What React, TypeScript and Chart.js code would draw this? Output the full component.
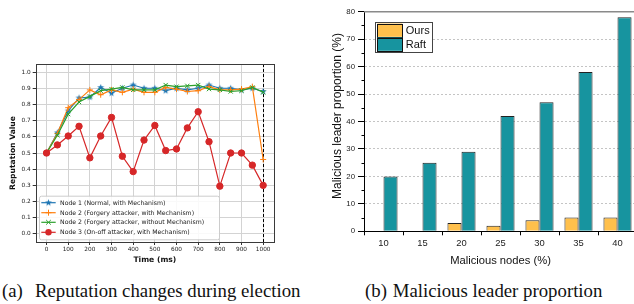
import React, { useEffect, useRef } from 'react';
import { Chart, registerables } from 'chart.js';
Chart.register(...registerables);

// ---------- (a) Reputation changes during election ----------
const timeMs = [0, 50, 100, 150, 200, 250, 300, 350, 400, 450, 500, 550, 600, 650, 700, 750, 800, 850, 900, 950, 1000];
const node1Normal = [0.5, 0.625, 0.76, 0.84, 0.845, 0.905, 0.87, 0.9, 0.92, 0.9, 0.9, 0.885, 0.9, 0.89, 0.9, 0.92, 0.9, 0.9, 0.89, 0.9, 0.88];
const node2ForgeryWith = [0.5, 0.62, 0.78, 0.83, 0.89, 0.86, 0.89, 0.875, 0.895, 0.875, 0.875, 0.905, 0.895, 0.88, 0.885, 0.91, 0.89, 0.89, 0.895, 0.91, 0.46];
const node2ForgeryWithout = [0.5, 0.61, 0.74, 0.815, 0.85, 0.885, 0.895, 0.905, 0.89, 0.89, 0.89, 0.92, 0.91, 0.915, 0.92, 0.895, 0.89, 0.88, 0.885, 0.905, 0.875];
const node3OnOff = [0.5, 0.55, 0.605, 0.665, 0.47, 0.605, 0.72, 0.48, 0.385, 0.58, 0.67, 0.515, 0.525, 0.655, 0.755, 0.57, 0.295, 0.5, 0.5, 0.425, 0.3];
const seriesLabels = [
  'Node 1 (Normal, with Mechanism)',
  'Node 2 (Forgery attacker, with Mechanism)',
  'Node 2 (Forgery attacker, without Mechanism)',
  'Node 3 (On-off attacker, with Mechanism)',
];
const timeTicks = [0, 100, 200, 300, 400, 500, 600, 700, 800, 900, 1000];
const reputationTicks = [0, 0.1, 0.2, 0.3, 0.4, 0.5, 0.6, 0.7, 0.8, 0.9, 1.0];
const electionEnd = 1000;

// ---------- (b) Malicious leader proportion ----------
const maliciousNodes = ['10', '15', '20', '25', '30', '35', '40'];
const oursValues = [0, 0, 3, 2, 4, 5, 5];
const raftValues = [20, 25, 29, 42, 47, 58, 78];
const rightYTitle = 'Malicious leader proportion (%)';

const LINE_COLORS = ['#1f77b4', '#ff7f0e', '#2ca02c', '#d62728'];
const MARKERS = ['star', 'plus', 'x', 'circle'];

function makeStar(color: string, r: number): HTMLCanvasElement {
  const size = Math.ceil(r * 2 + 1);
  const c = document.createElement('canvas');
  c.width = size; c.height = size;
  const ctx = c.getContext('2d')!;
  ctx.fillStyle = color;
  ctx.beginPath();
  for (let i = 0; i < 10; i++) {
    const rad = i % 2 === 0 ? r : r * 0.42;
    const a = -Math.PI / 2 + (i * Math.PI) / 5;
    const px = size / 2 + rad * Math.cos(a);
    const py = size / 2 + rad * Math.sin(a);
    if (i === 0) ctx.moveTo(px, py); else ctx.lineTo(px, py);
  }
  ctx.closePath();
  ctx.fill();
  return c;
}

function drawMarker(ctx: CanvasRenderingContext2D, kind: string, color: string, x: number, y: number, star: HTMLCanvasElement) {
  ctx.save();
  ctx.strokeStyle = color; ctx.fillStyle = color; ctx.lineWidth = 1;
  if (kind === 'star') {
    ctx.drawImage(star, x - star.width / 2, y - star.height / 2);
  } else if (kind === 'plus') {
    ctx.beginPath(); ctx.moveTo(x - 3, y); ctx.lineTo(x + 3, y); ctx.moveTo(x, y - 3); ctx.lineTo(x, y + 3); ctx.stroke();
  } else if (kind === 'x') {
    ctx.beginPath(); ctx.moveTo(x - 2.3, y - 2.3); ctx.lineTo(x + 2.3, y + 2.3); ctx.moveTo(x - 2.3, y + 2.3); ctx.lineTo(x + 2.3, y - 2.3); ctx.stroke();
  } else {
    ctx.beginPath(); ctx.arc(x, y, 3.2, 0, Math.PI * 2); ctx.fill();
  }
  ctx.restore();
}

export default function App() {
  const leftRef = useRef<HTMLCanvasElement>(null);
  const rightRef = useRef<HTMLCanvasElement>(null);

  useEffect(() => {
    document.body.style.margin = '0';
    document.body.style.overflow = 'hidden';
    const star = makeStar(LINE_COLORS[0], 3.6);
    const seriesData = [node1Normal, node2ForgeryWith, node2ForgeryWithout, node3OnOff];
    const pointStyles: any[] = [star, 'cross', 'crossRot', 'circle'];
    const FONT_L = 'DejaVu Sans';

    const leftDecor = {
      id: 'leftDecor',
      beforeDatasetsDraw(chart: any) {
        const { ctx, chartArea, scales } = chart;
        const x = Math.round(scales.x.getPixelForValue(electionEnd)) + 0.5;
        ctx.save();
        ctx.strokeStyle = '#000'; ctx.lineWidth = 1; ctx.setLineDash([3, 2]);
        ctx.beginPath(); ctx.moveTo(x, chartArea.top); ctx.lineTo(x, chartArea.bottom); ctx.stroke();
        ctx.restore();
      },
      afterDraw(chart: any) {
        const { ctx, chartArea } = chart;
        ctx.save();
        ctx.strokeStyle = '#3a3a3a'; ctx.lineWidth = 1;
        const l = Math.round(chartArea.left) + 0.5, r = Math.round(chartArea.right) + 0.5;
        const t = Math.round(chartArea.top) + 0.5, b = Math.round(chartArea.bottom) + 0.5;
        ctx.strokeRect(l, t, r - l, b - t);
        const bx = chartArea.left + 3.3, by = chartArea.top + 131.7, bw = 180, bh = 43.6;
        ctx.fillStyle = 'rgba(255,255,255,0.85)';
        ctx.strokeStyle = '#cccccc';
        ctx.beginPath();
        (ctx as any).roundRect(bx + 0.5, by + 0.5, bw, bh, 2);
        ctx.fill(); ctx.stroke();
        ctx.font = `6.2px "${FONT_L}"`;
        ctx.textBaseline = 'middle';
        const rowY = [7, 17, 26.6, 36.6];
        chart.data.datasets.forEach((ds: any, i: number) => {
          const y = by + rowY[i];
          ctx.strokeStyle = ds.borderColor; ctx.lineWidth = 1.2;
          ctx.beginPath(); ctx.moveTo(bx + 2.3, y); ctx.lineTo(bx + 16.7, y); ctx.stroke();
          drawMarker(ctx, MARKERS[i], ds.borderColor, bx + 9.5, y, star);
          ctx.fillStyle = '#222';
          ctx.fillText(ds.label, bx + 21, y + 0.3);
        });
        ctx.restore();
      },
    };

    const left = new Chart(leftRef.current!, {
      type: 'line',
      data: {
        datasets: seriesLabels.map((label, i) => ({
          label,
          data: timeMs.map((t, k) => ({ x: t, y: seriesData[i][k] })),
          borderColor: LINE_COLORS[i],
          backgroundColor: LINE_COLORS[i],
          borderWidth: 1.2,
          pointStyle: pointStyles[i],
          pointRadius: i === 3 ? 3.2 : 3,
          pointBorderWidth: 1,
          pointBorderColor: LINE_COLORS[i],
          pointBackgroundColor: LINE_COLORS[i],
          tension: 0,
          order: 3 - i,
        })),
      },
      options: {
        responsive: false,
        animation: false,
        events: [],
        layout: { padding: { left: 0, right: 16, top: 14, bottom: 0 } },
        plugins: { legend: { display: false }, tooltip: { enabled: false } },
        scales: {
          x: {
            type: 'linear',
            min: -50,
            max: 1050,
            afterBuildTicks: (s: any) => { s.ticks = timeTicks.map((v) => ({ value: v })); },
            afterFit: (s: any) => { s.height = 28; },
            ticks: { autoSkip: false, maxRotation: 0, padding: 2, color: '#222', font: { family: FONT_L, size: 5.8, lineHeight: 1 }, callback: (v: any) => String(v) },
            grid: { color: '#d3d3d3', lineWidth: 1, tickLength: 3, tickColor: '#333' },
            border: { display: false },
            title: { display: true, text: 'Time (ms)', color: '#111', font: { family: FONT_L, size: 7.6, weight: 'bold', lineHeight: 1 }, padding: { top: 0, bottom: 6 } },
          },
          y: {
            type: 'linear',
            min: -0.05,
            max: 1.05,
            afterBuildTicks: (s: any) => { s.ticks = reputationTicks.map((v) => ({ value: v })); },
            afterFit: (s: any) => { s.width = 35.7; },
            ticks: { autoSkip: false, padding: 2, color: '#222', font: { family: FONT_L, size: 5.8, lineHeight: 1 }, callback: (v: any) => Number(v).toFixed(1) },
            grid: { color: '#d3d3d3', lineWidth: 1, tickLength: 3, tickColor: '#333' },
            border: { display: false },
            title: { display: true, text: 'Reputation Value', color: '#111', font: { family: FONT_L, size: 7.6, weight: 'bold', lineHeight: 1 }, padding: { top: 8.9, bottom: 0 } },
          },
        },
      } as any,
      plugins: [leftDecor],
    });

    const FONT_R = 'Liberation Sans';
    const rightDecor = {
      id: 'rightDecor',
      afterDraw(chart: any) {
        const { ctx, chartArea, scales } = chart;
        ctx.save();
        ctx.strokeStyle = '#8a8a8a'; ctx.lineWidth = 1.4;
        ctx.beginPath();
        ctx.moveTo(chartArea.left, chartArea.top); ctx.lineTo(chartArea.right, chartArea.top); ctx.lineTo(chartArea.right, chartArea.bottom);
        ctx.stroke();
        ctx.strokeStyle = '#000'; ctx.lineWidth = 1;
        const xl = Math.round(chartArea.left) + 0.5;
        for (let v = 5; v < 80; v += 10) {
          const y = Math.round(scales.y.getPixelForValue(v)) + 0.5;
          ctx.beginPath(); ctx.moveTo(xl - 3, y); ctx.lineTo(xl, y); ctx.stroke();
        }
        // y-axis title
        ctx.save();
        ctx.translate(38, chartArea.top + 104.3);
        ctx.rotate(-Math.PI / 2);
        ctx.font = `12px "${FONT_R}"`;
        ctx.fillStyle = '#111';
        ctx.textAlign = 'center';
        ctx.textBaseline = 'middle';
        ctx.fillText(rightYTitle, 0, 0);
        ctx.restore();
        // legend
        const bx = chartArea.left + 11.3, by = chartArea.top + 10.3;
        ctx.fillStyle = '#fff'; ctx.strokeStyle = '#444'; ctx.lineWidth = 1;
        ctx.fillRect(bx, by, 57, 30);
        ctx.strokeRect(Math.round(bx) + 0.5, Math.round(by) + 0.5, 57, 30);
        ctx.font = `11px "${FONT_R}"`;
        ctx.textBaseline = 'middle';
        chart.data.datasets.forEach((ds: any, i: number) => {
          const sy = by + 1.5 + i * 14;
          ctx.fillStyle = ds.backgroundColor;
          ctx.fillRect(bx + 2, sy, 25, 13.3);
          ctx.strokeStyle = '#111';
          ctx.strokeRect(Math.round(bx + 2) + 0.5, Math.round(sy) + 0.5, 25, 13);
          ctx.fillStyle = '#111';
          ctx.fillText(ds.label, bx + 30.5, sy + 7.2);
        });
        ctx.restore();
      },
    };

    const right = new Chart(rightRef.current!, {
      type: 'bar',
      data: {
        labels: maliciousNodes,
        datasets: [
          { label: 'Ours', data: oursValues, backgroundColor: '#FFC04C', borderColor: '#222', borderWidth: 1, categoryPercentage: 0.72, barPercentage: 1 },
          { label: 'Raft', data: raftValues, backgroundColor: '#17949F', borderColor: '#222', borderWidth: 1, categoryPercentage: 0.72, barPercentage: 1 },
        ],
      },
      options: {
        responsive: false,
        animation: false,
        events: [],
        layout: { padding: { left: 0, right: 3, top: 11.7, bottom: 0 } },
        plugins: { legend: { display: false }, tooltip: { enabled: false } },
        scales: {
          x: {
            afterFit: (s: any) => { s.height = 43.7; },
            ticks: { autoSkip: false, maxRotation: 0, padding: 3.2, color: '#222', font: { family: FONT_R, size: 9.4, lineHeight: 1 } },
            grid: { display: true, drawOnChartArea: false, drawTicks: true, tickLength: 4, tickColor: '#000', offset: true },
            border: { display: true, color: '#000', width: 1 },
            title: { display: true, text: 'Malicious nodes (%)', color: '#111', font: { family: FONT_R, size: 11.2, lineHeight: 1 }, padding: { top: 0, bottom: 8.7 } },
          },
          y: {
            min: 0,
            max: 80,
            afterFit: (s: any) => { s.width = 64; },
            ticks: { stepSize: 10, padding: 3, color: '#222', font: { family: FONT_R, size: 7.8, lineHeight: 1 } },
            grid: { color: '#c4c4c4', lineWidth: 1, tickLength: 6, tickColor: '#000', tickBorderDash: [] },
            border: { display: true, color: '#000', width: 1, dash: [2, 2] },
            title: { display: false },
          },
        },
      } as any,
      plugins: [rightDecor],
    });

    return () => { left.destroy(); right.destroy(); };
  }, []);

  const cap: React.CSSProperties = { position: 'absolute', top: 282, fontFamily: '"Liberation Serif", serif', fontSize: 18.8, lineHeight: 1, whiteSpace: 'nowrap', color: '#111' };

  return (
    <div style={{ position: 'fixed', left: 0, top: 0, width: 634, height: 304, overflow: 'hidden', background: '#fff' }}>
      <canvas ref={leftRef} width={290} height={220} style={{ position: 'absolute', left: 0, top: 50, width: 290, height: 220 }} />
      <canvas ref={rightRef} width={340} height={275} style={{ position: 'absolute', left: 300, top: 0, width: 340, height: 275 }} />
      <div style={{ ...cap, left: 2 }}>(a)</div>
      <div style={{ ...cap, left: 35 }}>Reputation changes during election</div>
      <div style={{ ...cap, left: 365 }}>(b)</div>
      <div style={{ ...cap, left: 392.7 }}>Malicious leader proportion</div>
    </div>
  );
}
